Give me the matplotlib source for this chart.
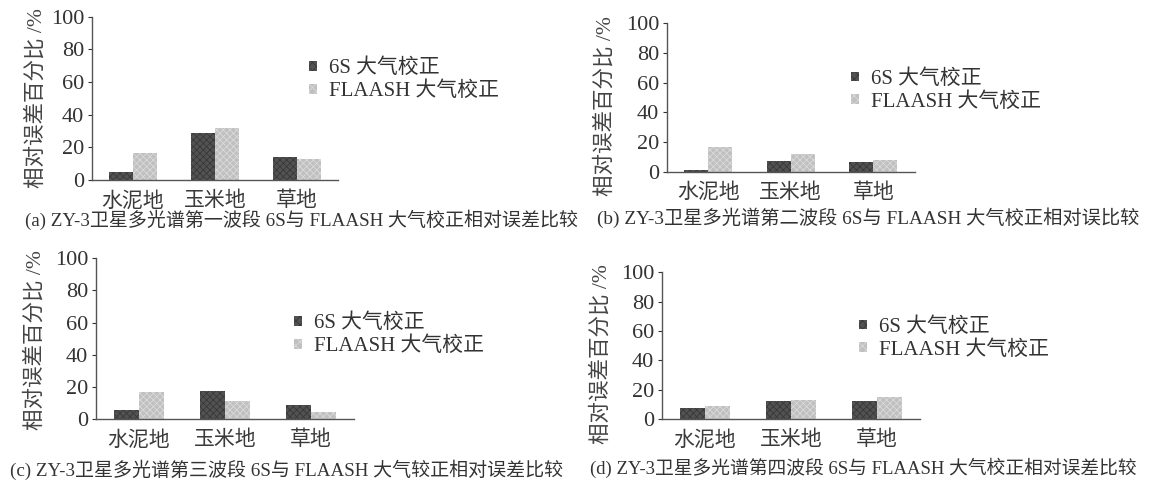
import matplotlib
matplotlib.use("Agg")
import matplotlib.pyplot as plt
from matplotlib.patches import Patch
import numpy as np

plt.rcParams['font.family'] = ['Liberation Serif', 'Noto Sans CJK SC']
plt.rcParams['hatch.linewidth'] = 0.6

categories = ['水泥地', '玉米地', '草地']
series_names = ['6S 大气校正', 'FLAASH 大气校正']

# values (relative error %)
s6_a = [5.1, 28.6, 13.9]
fl_a = [16.3, 31.6, 12.9]
s6_b = [0.9, 7.2, 6.5]
fl_b = [16.9, 11.7, 8.1]
s6_c = [5.6, 17.4, 8.9]
fl_c = [16.6, 11.2, 4.1]
s6_d = [7.7, 12.0, 12.0]
fl_d = [9.1, 12.7, 14.8]

captions = [
    '(a) ZY-3卫星多光谱第一波段 6S与 FLAASH 大气校正相对误差比较',
    '(b) ZY-3卫星多光谱第二波段 6S与 FLAASH 大气校正相对误比较',
    '(c) ZY-3卫星多光谱第三波段 6S与 FLAASH 大气较正相对误差比较',
    '(d) ZY-3卫星多光谱第四波段 6S与 FLAASH 大气校正相对误差比较',
]

W, H = 1151, 483
fig = plt.figure(figsize=(W / 100, H / 100), dpi=100)

dark = '#525252'
light = '#c0c0c0'

# layout in pixels: axes left/right, y of 0 and 100, ylabel x/y, legend x/y, caption x/y/size
panels = [
    dict(l=92, r=338, y0=180, y1=16.7, yl=(36, 98), lg=(299, 80), cap=(25, 220, 13.7), s6=s6_a, fl=fl_a),
    dict(l=667, r=914.5, y0=171.7, y1=23.3, yl=(605, 106), lg=(841, 90.5), cap=(597, 218, 13.9), s6=s6_b, fl=fl_b),
    dict(l=95.7, r=354, y0=419, y1=258.3, yl=(35, 340), lg=(284, 335), cap=(10, 470, 13.7), s6=s6_c, fl=fl_c),
    dict(l=661.7, r=920, y0=419, y1=272.3, yl=(601.7, 354), lg=(849, 338.5), cap=(590, 468, 13.5), s6=s6_d, fl=fl_d),
]

for i, p in enumerate(panels):
    ax = fig.add_axes([p['l'] / W, 1 - p['y0'] / H, (p['r'] - p['l']) / W, (p['y0'] - p['y1']) / H])
    x = np.arange(len(categories))
    w = 0.29
    ax.bar(x - w / 2, p['s6'], w, color=dark, edgecolor='#383838', hatch='xxxxx', linewidth=0)
    ax.bar(x + w / 2, p['fl'], w, color=light, edgecolor='#dadada', hatch='xxxxx', linewidth=0)
    ax.set_xlim(-0.5, 2.5)
    ax.set_ylim(0, 100)
    ax.set_yticks([0, 20, 40, 60, 80, 100])
    ax.set_xticks(x)
    ax.set_xticklabels(categories, fontsize=15, color='#3a3a3a')
    ax.tick_params(axis='x', length=0, pad=8.5)
    ax.tick_params(axis='y', labelsize=16, length=3, width=0.8, colors='#333333', pad=2.5)
    for sp in ['top', 'right']:
        ax.spines[sp].set_visible(False)
    for sp in ['left', 'bottom']:
        ax.spines[sp].set_color('#555555')
        ax.spines[sp].set_linewidth(1.0)
    ax.set_ylabel('相对误差百分比 /%', fontsize=15.5, color='#444444', va='center')
    ax.yaxis.set_label_coords(p['yl'][0] / W, 1 - p['yl'][1] / H, transform=fig.transFigure)
    handles = [Patch(facecolor=dark, edgecolor='#383838', hatch='xxxx', linewidth=0),
               Patch(facecolor=light, edgecolor='#dadada', hatch='xxxx', linewidth=0)]
    fig.legend(handles, series_names, loc='center left',
               bbox_to_anchor=(p['lg'][0] / W, 1 - p['lg'][1] / H),
               frameon=False, fontsize=15, handlelength=0.35, handleheight=0.35,
               handletextpad=0.6, labelspacing=0.15, labelcolor='#333333', borderpad=0)
    cx, cy, cs = p['cap']
    fig.text(cx / W, 1 - cy / H, captions[i], fontsize=cs, ha='left', va='center', color='#333333')

fig.savefig('out.png', dpi=100, facecolor='white')
